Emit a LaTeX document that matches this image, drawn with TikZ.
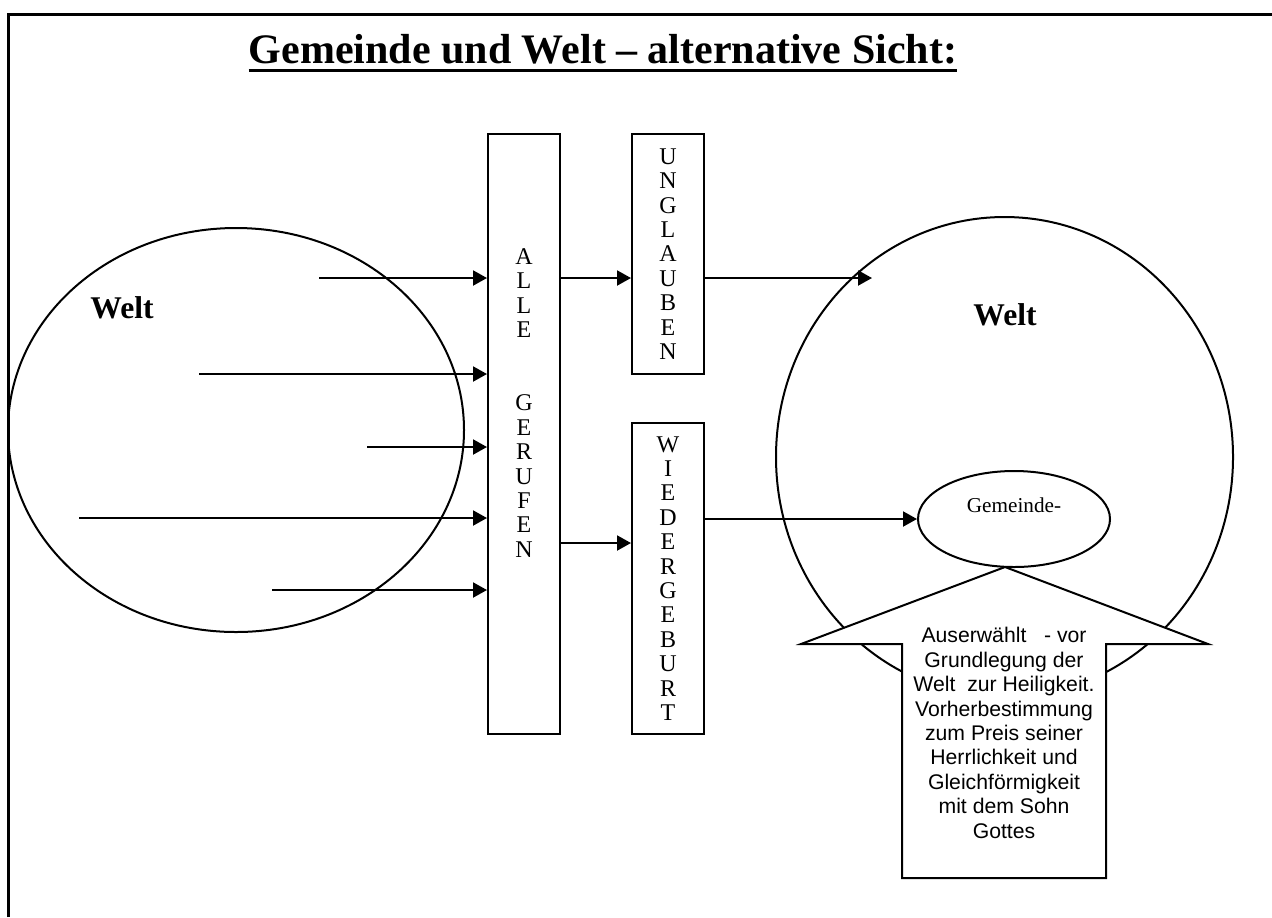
\documentclass[tikz,border=0pt]{standalone}
\usepackage{fontspec}
\setmainfont{Liberation Serif}
\setsansfont{Liberation Sans}
\usetikzlibrary{arrows.meta,shapes.geometric,positioning}

\tikzset{
  box/.style={draw,line width=1pt,minimum width=36pt,inner sep=0pt},
  letters/.style={align=center,font=\fontsize{12}{12.2}\selectfont},
  arr/.style={line width=1pt,-{Triangle[length=7pt,width=7.5pt]}},
  welt/.style={draw,ellipse,line width=1pt,inner sep=0pt},
  weltlabel/.style={font=\fontsize{15.8}{19}\selectfont\bfseries},
}

\begin{document}
\begin{tikzpicture}[x=0.5pt,y=-0.5pt]
\useasboundingbox (0,0) rectangle (1272,917);
% frame
\draw[line width=1.5pt] (8,917) -- (8,14) -- (1272,14);
% title
\node (title) [anchor=base,inner sep=0pt,font=\fontsize{21}{25}\selectfont\bfseries] at (603,63) {Gemeinde und Welt – alternative Sicht:};
\draw[line width=1.5pt] ([yshift=-3.5pt]title.base west) -- ([yshift=-3.5pt]title.base east);
%
\node (welt1) [welt,minimum width=228pt,minimum height=202pt] at (236,430) {};
\node (welt1-text) [weltlabel] at (122,308) {Welt};
%
\node (alle) [box,minimum height=300pt] at (524,434) {};
\node (alle-text) [letters] at (524,403) {A\\L\\L\\E\\~\\~\\G\\E\\R\\U\\F\\E\\N};
\node (ungl) [box,letters,minimum height=120pt] at (668,254) {U\\N\\G\\L\\A\\U\\B\\E\\N};
\node (wied) [box,letters,minimum height=155.5pt] at (668,578.5) {W\\I\\E\\D\\E\\R\\G\\E\\B\\U\\R\\T};
%
\node (welt2) [welt,minimum width=228.5pt,minimum height=240pt] at (1004.5,457) {};
\node (welt2-text) [weltlabel] at (1005,315) {Welt};
\node (gem) [welt,minimum width=96pt,minimum height=48pt,
  label={[font=\fontsize{10.6}{12}\selectfont,yshift=7pt]center:Gemeinde-}] at (1014,519) {};
%
\coordinate (in1) at (319,278);
\coordinate (in2) at (199,374);
\coordinate (in3) at (367,447);
\coordinate (in4) at (79,518);
\coordinate (in5) at (272,590);
\coordinate (out1) at (872,278);
\coordinate (out2) at (560,543);
\foreach \i in {1,...,5}
  \draw[arr] (in\i) -- (in\i -| alle.west);
\draw[arr] (alle.east |- in1) -- (ungl.west |- in1);
\draw[arr] (ungl.east |- in1) -- (out1);
\draw[arr] (alle.east |- out2) -- (wied.west |- out2);
\draw[arr] (wied.east |- gem.west) -- (gem.west);
% up arrow
\draw[line width=1pt,fill=white] (1005,567) -- (1208,644) -- (1106,644) -- (1106,878)
  -- (902,878) -- (902,644) -- (801,644) -- cycle;
\node (callout) [align=center,font=\sffamily\fontsize{10.6}{12.2}\selectfont] at (1004,733)
  {Auserwählt\ \ \ - vor\\Grundlegung der\\Welt\ \ zur Heiligkeit.\\Vorherbestimmung\\zum Preis seiner\\Herrlichkeit und\\Gleichförmigkeit\\mit dem Sohn\\Gottes};
\end{tikzpicture}
\end{document}
